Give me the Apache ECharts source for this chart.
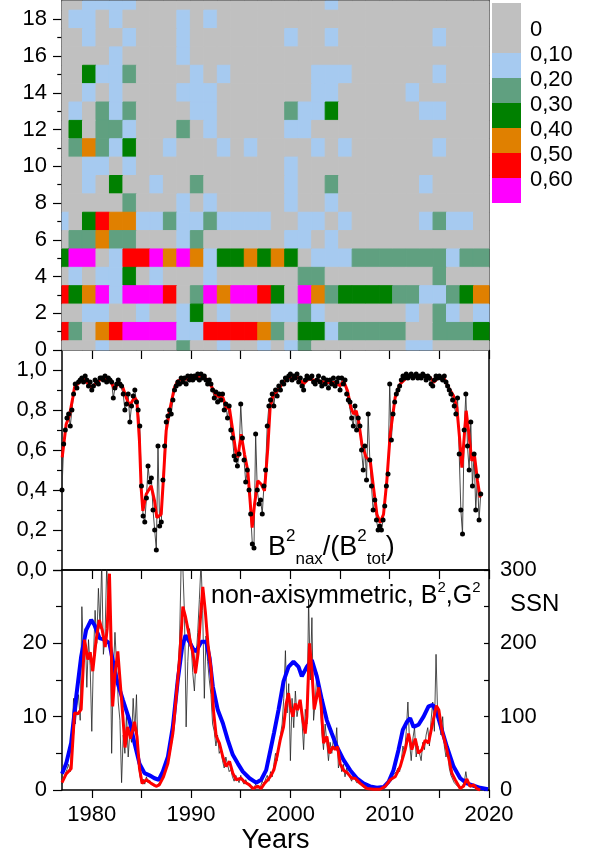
<!DOCTYPE html>
<html><head><meta charset="utf-8">
<script src="https://cdn.jsdelivr.net/npm/echarts@6/dist/echarts.min.js"></script>
<style>html,body{margin:0;padding:0;background:#fff}#c{width:593px;height:856px}</style>
</head><body><div id="c"></div>
<script>
// ---------- heatmap (rows 19 at top .. 0 at bottom; one char per column, level 0..6)
const heatRows = [
 "00111100000000000000100000000000", // 19
 "01101000010100000000000000000000", // 18
 "00100100010000000100100000001000", // 17
 "00001000010000000000000000000000", // 16
 "00311200001010000001110000001000", // 15
 "00101000011100000001100000100000", // 14
 "01021200001100000211300000011000", // 13
 "03022100020100000110000000000000", // 12
 "02421300100010100001010000001000", // 11
 "00110100000000000100000000000000", // 10
 "00103001002000000100200000010000", // 9
 "00000200010100000100100000000000", // 8
 "10354411211211110011010000012110", // 7
 "02242200012000000110100000000000", // 6
 "36601556464133434301112222222122", // 5
 "01011301000100000022000000002000", // 4
 "53461666502646653064233332211234", // 3
 "00110010013010001121000000102101", // 2
 "52045666611555542033122222002223", // 1
 "00010000020010010120000000110000"  // 0
];
const levelColors = ['#C0C0C0','#A6CAF0','#60A080','#008000','#E08000','#FF0000','#FF00FF'];
const legendLabels = ['0','0,10','0,20','0,30','0,40','0,50','0,60'];

// ---------- tick values
const tickYears = [1980,1985,1990,1995,2000,2005,2010,2015,2020];
const labelYears = [1980,1990,2000,2010,2020];
const heatTicks = [0,2,4,6,8,10,12,14,16,18];
const heatMinorTicks = [1,3,5,7,9,11,13,15,17];
const ratioTicks = [0,0.2,0.4,0.6,0.8,1.0];
const ratioMinorTicks = [0.1,0.3,0.5,0.7,0.9];
const nonAxTicks = [0,10,20,30];
const nonAxLabels = [0,10,20];
const nonAxMinorTicks = [5,15,25];
const ssnTicks = [0,50,100,150,200,250,300];
const ssnLabels = [0,100,200,300];

// ---------- middle panel: B2nax/B2tot
const midStartYear = 1977, midStep = 1/6;
const midBlack = [
 0.40,0.63,0.70,0.76,0.78,0.72, 0.80,0.88,0.93,0.91,0.94,0.95, 0.96,0.94,0.97,0.95,0.92,0.94,
 0.90,0.92,0.95,0.94,0.93,0.96, 0.96,0.95,0.97,0.94,0.96,0.95, 0.94,0.86,0.91,0.93,0.95,0.93,
 0.92,0.88,0.80,0.83,0.88,0.74, 0.82,0.87,0.90,0.84,0.80,0.72, 0.42,0.27,0.24,0.36,0.52,0.44,
 0.46,0.30,0.20,0.10,0.62,0.22, 0.24,0.45,0.62,0.74,0.77,0.80, 0.78,0.85,0.90,0.92,0.94,0.93,
 0.96,0.94,0.96,0.93,0.97,0.95, 0.97,0.95,0.97,0.96,0.98,0.95, 0.98,0.96,0.97,0.95,0.93,0.95,
 0.93,0.90,0.86,0.89,0.84,0.88, 0.85,0.88,0.80,0.83,0.76,0.82, 0.70,0.66,0.57,0.55,0.52,0.58,
 0.83,0.66,0.55,0.44,0.50,0.40, 0.28,0.13,0.11,0.68,0.40,0.33, 0.35,0.28,0.42,0.50,0.72,0.82,
 0.85,0.88,0.82,0.90,0.87,0.92, 0.90,0.94,0.93,0.96,0.95,0.97, 0.98,0.95,0.97,0.96,0.98,0.94,
 0.96,0.92,0.90,0.95,0.97,0.96, 0.96,0.97,0.94,0.93,0.95,0.97, 0.94,0.92,0.96,0.93,0.95,0.91,
 0.95,0.93,0.96,0.92,0.94,0.96, 0.90,0.96,0.93,0.95,0.88,0.85, 0.84,0.76,0.72,0.82,0.70,0.76,
 0.72,0.60,0.50,0.62,0.45,0.78, 0.55,0.42,0.30,0.35,0.25,0.20, 0.22,0.20,0.25,0.32,0.42,0.48,
 0.93,0.65,0.78,0.84,0.88,0.90, 0.92,0.95,0.97,0.96,0.98,0.96, 0.97,0.98,0.96,0.97,0.98,0.96,
 0.97,0.96,0.98,0.97,0.95,0.97, 0.96,0.93,0.92,0.95,0.97,0.96, 0.97,0.96,0.95,0.97,0.94,0.92,
 0.90,0.88,0.85,0.82,0.78,0.86, 0.58,0.30,0.18,0.70,0.88,0.62, 0.50,0.74,0.42,0.58,0.30,0.47,
 0.25,0.38
];
const midRedYears = [
 1977.02,1977.42,1977.75,1978.09,1978.26,1978.59,1979.10,1979.60,1979.94,1980.44,1980.94,1981.78,
 1982.29,1982.72,1983.13,1983.46,1983.80,1984.30,1984.54,1984.80,1984.97,1985.14,1985.48,1985.98,
 1986.32,1986.55,1986.99,1987.22,1987.49,1987.83,1988.33,1988.66,1989.17,1989.84,1990.51,1991.02,
 1991.52,1992.02,1992.53,1993.20,1993.53,1993.87,1994.20,1994.54,1994.71,1995.04,1995.38,1995.71,
 1996.15,1996.39,1996.72,1997.06,1997.39,1997.73,1997.96,1998.25,1998.80,1999.31,1999.81,2000.31,
 2000.82,2001.32,2001.82,2002.66,2003.67,2004.51,2005.01,2005.35,2005.75,2006.09,2006.36,2006.63,
 2006.86,2007.20,2007.63,2008.04,2008.37,2008.71,2009.04,2009.38,2009.71,2010.05,2010.55,2011.06,
 2011.73,2012.40,2013.41,2014.08,2014.41,2014.92,2015.42,2015.92,2016.43,2016.76,2017.03,2017.27,
 2017.50,2017.70,2017.94,2018.27,2018.54,2018.84,2019.11
];
const midRedValues = [
 0.563,0.729,0.771,0.863,0.913,0.930,0.960,0.933,0.913,0.933,0.955,0.955,
 0.905,0.938,0.913,0.863,0.821,0.863,0.846,0.646,0.412,0.295,0.379,0.421,
 0.346,0.262,0.279,0.462,0.696,0.796,0.913,0.946,0.955,0.955,0.963,0.972,
 0.955,0.921,0.871,0.863,0.813,0.805,0.696,0.579,0.563,0.679,0.579,0.496,
 0.212,0.329,0.446,0.429,0.396,0.613,0.813,0.870,0.905,0.938,0.965,0.955,
 0.963,0.930,0.955,0.946,0.938,0.938,0.921,0.946,0.896,0.813,0.780,0.796,
 0.746,0.629,0.563,0.546,0.412,0.279,0.237,0.279,0.446,0.679,0.863,0.930,
 0.963,0.971,0.971,0.963,0.938,0.963,0.963,0.913,0.871,0.813,0.663,0.512,
 0.663,0.796,0.696,0.546,0.571,0.446,0.362
];

// ---------- bottom panel: non-axisymmetric B2,G2 and SSN
const botStartYear = 1977, botStep = 1/6;
const botBlack = [
 0.8,1.5,2.2,2.8,3.5,2.5, 7.5,12.5,9.0,11.5,13.0,9.5, 25.0,18.5,22.0,14.0,20.5,17.0,
 8.0,18.0,24.5,20.0,27.5,22.0, 31.0,18.5,21.0,30.5,26.0,24.0, 5.0,16.0,21.5,17.0,12.0,9.5,
 1.0,7.5,5.0,10.5,4.5,8.0, 6.5,12.5,8.0,13.0,4.0,2.0, 1.0,1.5,0.8,1.8,1.0,1.3,
 0.9,0.6,0.8,0.5,0.7,1.0, 1.5,2.0,2.8,3.5,4.5,5.5, 6.5,9.0,11.5,14.0,16.5,20.0,
 31.0,30.5,24.0,8.6,17.5,22.0, 20.0,16.0,13.5,18.0,21.5,26.0, 31.0,24.5,12.5,21.0,17.5,15.0,
 13.0,9.0,8.0,6.0,7.5,5.0, 5.5,4.0,3.0,4.5,3.5,2.5, 2.8,1.8,1.2,2.0,1.5,1.0,
 2.0,1.2,0.8,1.4,0.9,0.5, 0.3,0.5,0.2,0.8,0.4,0.3, 0.5,1.2,0.8,1.5,2.0,1.2,
 2.5,1.8,3.5,5.0,4.0,6.0, 7.5,9.0,12.5,19.0,10.5,14.5, 4.0,12.5,8.5,13.5,10.0,11.5,
 12.0,9.5,5.5,11.0,9.0,26.0, 15.0,23.5,9.5,12.0,16.0,13.5, 12.5,8.0,5.5,9.0,6.5,4.0,
 6.5,5.0,7.0,5.5,8.5,3.0, 4.0,2.5,3.5,1.8,3.0,2.2, 2.0,1.2,2.2,1.5,1.0,1.2,
 1.0,0.6,0.4,0.3,0.2,0.3, 0.2,0.1,0.2,0.1,0.2,0.1, 0.1,0.2,0.3,0.6,0.8,1.2,
 1.5,1.2,2.0,1.8,2.5,3.0, 2.5,4.0,6.0,5.0,8.0,12.0, 6.5,4.0,7.0,8.5,4.5,6.0,
 5.0,4.0,6.5,5.5,7.5,8.5, 6.0,9.5,12.0,8.0,18.5,10.0, 9.0,7.5,10.0,6.0,4.5,5.5,
 3.0,2.0,1.5,1.0,0.8,0.5, 0.3,0.2,0.6,1.0,2.5,1.0, 0.5,0.8,0.4,0.6,0.3,0.2,
 0.1,0.1,0.0
];
const botRedYears = [
 1977.00,1977.42,1977.92,1978.26,1978.60,1978.93,1979.27,1979.60,1979.84,1980.10,1980.44,1980.75,
 1981.05,1981.35,1981.55,1981.78,1982.10,1982.35,1982.62,1982.90,1983.13,1983.35,1983.60,1983.90,
 1984.30,1984.55,1984.80,1985.07,1985.50,1985.98,1986.48,1986.80,1987.22,1987.66,1988.16,1988.50,
 1988.83,1989.17,1989.44,1989.70,1990.03,1990.20,1990.44,1990.70,1990.95,1991.18,1991.45,1991.69,
 1992.02,1992.25,1992.53,1992.85,1993.20,1993.53,1993.87,1994.20,1994.54,1995.04,1995.38,1995.88,
 1996.20,1996.72,1997.06,1997.39,1997.73,1998.06,1998.35,1998.64,1998.97,1999.31,1999.58,1999.81,
 1999.98,2000.25,2000.48,2000.72,2000.98,2001.25,2001.49,2001.66,2001.93,2002.16,2002.40,2002.85,
 2003.10,2003.34,2003.67,2003.94,2004.27,2004.51,2004.75,2005.01,2005.35,2005.75,2006.19,2006.52,
 2007.03,2007.70,2008.37,2009.04,2009.55,2010.05,2010.55,2011.06,2011.56,2011.90,2012.23,2012.57,
 2012.90,2013.24,2013.57,2013.91,2014.35,2014.70,2014.95,2015.25,2015.59,2015.92,2016.26,2016.59,
 2017.10,2017.43,2017.77,2018.10,2018.44,2018.77,2019.11
];
const botRedValues = [
 1.0,2.2,2.9,10.5,10.4,11.0,20.5,17.8,18.8,16.2,20.5,23.2,
 21.8,19.5,22.0,29.5,11.4,16.0,18.9,14.0,10.0,5.8,8.6,7.0,
 9.3,7.3,3.0,0.9,1.4,0.9,0.5,0.7,1.8,3.6,7.7,12.7,
 17.7,25.0,23.6,21.8,19.5,18.6,15.9,18.6,23.6,27.7,24.1,20.0,
 16.4,10.9,7.3,6.4,4.5,3.2,3.9,2.3,1.4,1.6,1.1,0.7,
 0.2,0.5,0.2,0.9,1.4,2.0,2.8,4.5,6.8,8.6,11.8,13.2,
 11.4,10.0,11.8,10.9,12.3,9.5,7.7,10.0,20.0,16.4,11.0,14.0,
 11.4,6.4,7.3,5.0,5.9,5.5,5.9,3.6,2.7,2.3,1.6,1.6,
 0.9,0.2,0.1,0.1,0.5,1.4,1.8,3.2,5.5,7.7,5.5,7.0,
 5.0,5.5,6.8,6.4,9.3,11.5,10.9,8.2,6.4,4.5,2.3,1.4,
 0.2,0.5,1.5,0.5,0.7,0.2,0.0
];
const ssnYears = [
 1977.00,1977.42,1977.92,1978.43,1978.93,1979.43,1979.94,1980.27,1980.78,1981.28,1981.78,1982.29,
 1982.62,1983.13,1983.80,1984.30,1984.80,1985.31,1985.81,1986.31,1986.75,1987.15,1987.66,1988.16,
 1988.66,1989.10,1989.44,1989.84,1990.17,1990.51,1991.02,1991.52,1991.86,1992.19,1992.69,1993.20,
 1993.70,1994.20,1994.71,1995.21,1995.88,1996.55,1997.06,1997.56,1998.06,1998.35,1998.80,1999.31,
 1999.81,2000.31,2000.82,2001.15,2001.66,2002.16,2002.66,2003.17,2003.67,2004.17,2004.68,2005.35,
 2006.02,2006.69,2007.36,2008.03,2008.71,2009.38,2009.88,2010.38,2010.89,2011.32,2011.73,2012.06,
 2012.40,2012.90,2013.41,2013.91,2014.35,2014.75,2015.25,2015.76,2016.43,2017.10,2017.77,2018.44,
 2019.11,2019.90
];
const ssnValues = [
 22,36,64,127,182,218,232,225,207,205,200,164,
 145,123,95,64,36,23,20,16,14,25,45,86,
 150,195,211,202,193,189,202,202,180,141,109,91,
 68,48,36,25,16,10,14,27,59,78,109,148,
 168,175,168,155,168,177,155,123,95,77,59,41,
 27,16,9,5,3,4,11,27,55,82,93,98,
 86,89,100,114,116,105,82,59,32,16,9,6,
 3,1
];

// ---------- build
const nCols = heatRows[0].length;
const heatData = [];
heatRows.forEach((s, i) => {
  const row = heatRows.length - 1 - i;
  for (let c = 0; c < s.length; c++) heatData.push([c, row, +s[c]]);
});
const pairs = (xs, ys) => xs.map((x, i) => [x, ys[i]]);
const seq = (start, step, ys) => ys.map((v, i) => [start + i * step, v]);

const FONT = 'Liberation Sans, Arial, sans-serif';
const axLine = {show: true, onZero: false, lineStyle: {color: '#000', width: 1.5}};
const lbl = {color: '#000', fontSize: 22, fontFamily: FONT};
function ax(extra) {
  return Object.assign({type: 'value', splitLine: {show: false}, axisLine: axLine,
    axisTick: {show: false}, axisLabel: {show: false}}, extra);
}
const commaFmt = v => v.toFixed(1).replace('.', ',');
const plainFmt = v => String(Math.round(v));

function renderCell(params, api) {
  const c = api.value(0), r = api.value(1), lv = api.value(2);
  const p0 = api.coord([c - 0.5, r + 0.5]);
  const p1 = api.coord([c + 0.5, r - 0.5]);
  const cs = params.coordSys;
  let x1 = p1[0];
  if (c === nCols - 1) x1 = cs.x + cs.width;
  const shape = echarts.graphic.clipRectByRect(
    {x: p0[0], y: p0[1], width: x1 - p0[0], height: p1[1] - p0[1]},
    {x: cs.x, y: cs.y, width: cs.width, height: cs.height});
  if (!shape) return;
  return {type: 'rect', shape, style: {fill: levelColors[lv], stroke: levelColors[lv], lineWidth: 1}};
}

// legend graphic (colour scale)
const LG = {x: 492, y: 3, w: 29, unit: 25, labelX: 530, labelY: 30};
const legendGraphics = [];
levelColors.forEach((col, i) => {
  const top = i === 0 ? LG.y : LG.y + LG.unit * (i + 1);
  const h = i === 0 ? LG.unit * 2 : LG.unit;
  legendGraphics.push({type: 'rect', shape: {x: LG.x, y: top, width: LG.w, height: h}, style: {fill: col}});
  legendGraphics.push({type: 'text', x: LG.labelX, y: LG.labelY + LG.unit * i,
    style: {text: legendLabels[i], fill: '#000', font: '22px ' + FONT, align: 'left', verticalAlign: 'middle'}});
});

const chart = echarts.init(document.getElementById('c'), null, {renderer: 'canvas'});
chart.setOption({
  animation: false,
  backgroundColor: '#fff',
  textStyle: {fontFamily: FONT},
  grid: [
    {left: 62, top: 1, width: 427, height: 349},
    {left: 62, top: 350, width: 427, height: 220},
    {left: 62, top: 570, width: 427, height: 220}
  ],
  xAxis: [
    ax({gridIndex: 0, min: -0.02, max: 31.65, position: 'bottom', axisLine: {show: false}}),
    ax({gridIndex: 0, min: -0.02, max: 31.65, position: 'top'}),
    ax({gridIndex: 1, min: 1977, max: 2020, position: 'bottom'}),
    ax({gridIndex: 1, min: 1977, max: 2020, position: 'top',
        axisTick: {show: true, inside: true, length: 9, customValues: tickYears, lineStyle: {color: '#000', width: 1.2}}}),
    ax({gridIndex: 2, min: 1977, max: 2020, position: 'bottom',
        axisTick: {show: true, inside: false, length: 8, customValues: tickYears, lineStyle: {color: '#000', width: 1.2}},
        axisLabel: Object.assign({show: true, margin: 14, customValues: labelYears, formatter: plainFmt}, lbl),
        name: 'Years', nameLocation: 'middle', nameGap: 33,
        nameTextStyle: {color: '#000', fontSize: 27, fontFamily: FONT}}),
    ax({gridIndex: 2, min: 1977, max: 2020, position: 'top',
        axisTick: {show: true, inside: true, length: 9, customValues: tickYears, lineStyle: {color: '#000', width: 1.2}}})
  ],
  yAxis: [
    ax({gridIndex: 0, min: 0, max: 19, position: 'left',
        axisTick: {show: true, length: 9, customValues: heatTicks, lineStyle: {color: '#000', width: 1.2}},
        axisLabel: Object.assign({show: true, margin: 15, customValues: heatTicks, formatter: plainFmt}, lbl)}),
    ax({gridIndex: 0, min: 0, max: 19, position: 'left', axisLine: {show: false},
        axisTick: {show: true, length: 5, customValues: heatMinorTicks, lineStyle: {color: '#000', width: 1.2}}}),
    ax({gridIndex: 0, min: 0, max: 19, position: 'right'}),
    ax({gridIndex: 1, min: 0, max: 1.1, position: 'left',
        axisTick: {show: true, length: 9, customValues: ratioTicks, lineStyle: {color: '#000', width: 1.2}},
        axisLabel: Object.assign({show: true, margin: 15, customValues: ratioTicks, formatter: commaFmt}, lbl)}),
    ax({gridIndex: 1, min: 0, max: 1.1, position: 'left', axisLine: {show: false},
        axisTick: {show: true, length: 5, customValues: ratioMinorTicks, lineStyle: {color: '#000', width: 1.2}}}),
    ax({gridIndex: 1, min: 0, max: 1.1, position: 'right'}),
    ax({gridIndex: 2, min: 0, max: 30, position: 'left',
        axisTick: {show: true, length: 9, customValues: nonAxTicks, lineStyle: {color: '#000', width: 1.2}},
        axisLabel: Object.assign({show: true, margin: 15, customValues: nonAxLabels, formatter: plainFmt}, lbl)}),
    ax({gridIndex: 2, min: 0, max: 30, position: 'left', axisLine: {show: false},
        axisTick: {show: true, length: 6, customValues: nonAxMinorTicks, lineStyle: {color: '#000', width: 1.2}}}),
    ax({gridIndex: 2, min: 0, max: 300, position: 'right',
        axisTick: {show: true, inside: true, length: 5, customValues: ssnTicks, lineStyle: {color: '#000', width: 1.2}},
        axisLabel: Object.assign({show: true, margin: 11, customValues: ssnLabels, formatter: plainFmt}, lbl)})
  ],
  series: [
    {type: 'custom', name: 'heat', xAxisIndex: 0, yAxisIndex: 0, data: heatData,
     encode: {x: 0, y: 1}, renderItem: renderCell, silent: true},
    {type: 'line', name: 'ratio', xAxisIndex: 2, yAxisIndex: 3, data: seq(midStartYear, midStep, midBlack),
     symbol: 'circle', symbolSize: 5, itemStyle: {color: '#000'}, lineStyle: {color: '#333', width: 0.9}},
    {type: 'line', name: 'ratioSmooth', xAxisIndex: 2, yAxisIndex: 3, data: pairs(midRedYears, midRedValues),
     symbol: 'none', lineStyle: {color: '#FF0000', width: 3}},
    {type: 'line', name: 'nonAx', xAxisIndex: 4, yAxisIndex: 6, data: seq(botStartYear, botStep, botBlack),
     symbol: 'none', lineStyle: {color: '#222', width: 0.8}},
    {type: 'line', name: 'SSN', xAxisIndex: 4, yAxisIndex: 8, data: pairs(ssnYears, ssnValues),
     symbol: 'none', lineStyle: {color: '#0000FF', width: 4}},
    {type: 'line', name: 'nonAxSmooth', xAxisIndex: 4, yAxisIndex: 6, data: pairs(botRedYears, botRedValues),
     symbol: 'none', lineStyle: {color: '#FF0000', width: 3}}
  ],
  graphic: legendGraphics.concat([
    {type: 'text', x: 268, y: 527.8, z: 10, style: {
      text: '{B|B}{sp|2}{sb|nax}{B|/(B}{sp|2}{sb|tot}{B|)}', fill: '#000', align: 'left', verticalAlign: 'top',
      rich: {
        B: {fontSize: 27, fontFamily: FONT, lineHeight: 40, verticalAlign: 'middle', fill: '#000'},
        sp: {fontSize: 17, fontFamily: FONT, lineHeight: 22, verticalAlign: 'top', fill: '#000'},
        sb: {fontSize: 17, fontFamily: FONT, lineHeight: 12, verticalAlign: 'bottom', fill: '#000'}
      }}},
    {type: 'text', x: 211, y: 580.5, z: 10, style: {
      text: '{b|non-axisymmetric, B}{p|2}{b|,G}{p|2}', fill: '#000', align: 'left', verticalAlign: 'top',
      rich: {
        b: {fontSize: 25, fontFamily: FONT, lineHeight: 28, verticalAlign: 'bottom', fill: '#000'},
        p: {fontSize: 15, fontFamily: FONT, lineHeight: 14, verticalAlign: 'top', fill: '#000'}
      }}},
    {type: 'text', x: 510, y: 592, z: 10, style: {text: 'SSN', fill: '#000', font: '24px ' + FONT, align: 'left', verticalAlign: 'top'}}
  ])
});
</script>
</body></html>
